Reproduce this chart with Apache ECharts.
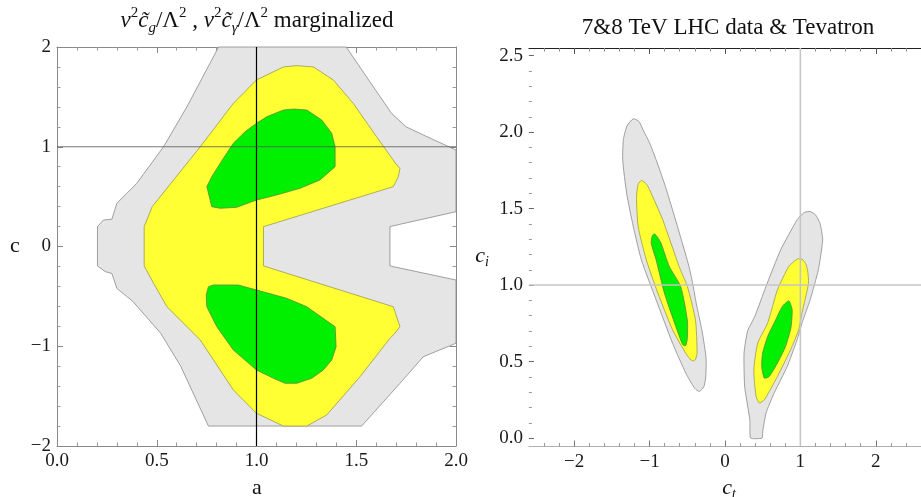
<!DOCTYPE html>
<html><head><meta charset="utf-8">
<script src="https://cdn.jsdelivr.net/npm/echarts@6/dist/echarts.min.js"></script>
<style>html,body{margin:0;padding:0;background:#fff}#c{width:921px;height:497px}</style>
</head><body><div id="c"></div>
<script>
// ---------- Left panel: (a, c) contour regions ----------
const leftGray = [
  [0.81,2.0],[1.45,2.0],[1.545,1.72],[1.677,1.335],[1.75,1.20],[1.836,1.118],[2.0,0.967],
  [2.0,0.349],[1.669,0.2],[1.669,-0.195],[2.0,-0.336],[2.0,-0.97],[1.836,-1.105],
  [1.719,-1.372],[1.527,-1.8],[0.759,-1.8],[0.62,-1.2],[0.52,-0.87],[0.38,-0.55],
  [0.30,-0.42],[0.275,-0.27],[0.242,-0.252],[0.203,-0.195],[0.203,0.199],[0.233,0.266],
  [0.275,0.273],[0.30,0.433],[0.35,0.533],[0.40,0.634],[0.534,1.0],[0.651,1.40]
];
const leftYellow = [
  [0.437,0.199],[0.477,0.399],[0.718,1.0],[0.884,1.435],[1.0,1.67],[1.135,1.80],[1.202,1.813],
  [1.285,1.80],[1.385,1.67],[1.485,1.435],[1.602,1.10],[1.703,0.817],[1.719,0.784],[1.711,0.70],
  [1.686,0.60],[1.035,0.199],[1.035,-0.195],[1.686,-0.604],[1.719,-0.804],[1.694,-0.87],
  [1.669,-0.92],[1.519,-1.305],[1.352,-1.689],[1.252,-1.80],[1.135,-1.80],[1.0,-1.672],
  [0.884,-1.439],[0.718,-0.937],[0.551,-0.604],[0.484,-0.369],[0.437,-0.195]
];
const leftGreenTop = [
  [0.751,0.60],[0.776,0.399],[0.818,0.383],[0.901,0.393],[1.0,0.466],[1.10,0.516],[1.218,0.583],
  [1.318,0.667],[1.394,0.80],[1.394,1.0],[1.377,1.135],[1.327,1.268],[1.252,1.368],[1.185,1.378],
  [1.135,1.368],[1.052,1.301],[1.0,1.235],[0.943,1.151],[0.884,1.035],[0.818,0.834],[0.776,0.70]
];
const leftGreenBottom = [
  [0.759,-0.403],[0.784,-0.386],[0.909,-0.386],[1.0,-0.436],[1.151,-0.519],[1.252,-0.604],
  [1.394,-0.804],[1.399,-1.005],[1.377,-1.138],[1.335,-1.238],[1.277,-1.321],[1.202,-1.371],
  [1.143,-1.371],[1.085,-1.321],[1.0,-1.238],[0.884,-1.038],[0.801,-0.804],[0.751,-0.604],[0.748,-0.486]
];
// ---------- Right panel: (c_t, c_i) regions ----------
const rightGrayL = [
  [-1.216,2.087],[-1.14,2.07],[-1.086,2.015],[-1.0,1.93],[-0.913,1.819],[-0.80,1.66],[-0.695,1.492],
  [-0.58,1.30],[-0.477,1.122],[-0.42,0.99],[-0.38,0.88],[-0.30,0.69],[-0.25,0.52],[-0.255,0.40],
  [-0.28,0.335],[-0.34,0.305],[-0.40,0.325],[-0.52,0.425],[-0.695,0.621],[-0.913,0.904],
  [-1.108,1.165],[-1.216,1.383],[-1.304,1.601],[-1.356,1.819],[-1.347,1.95],[-1.30,2.04]
];
const rightYellowL = [
  [-1.108,1.684],[-1.04,1.66],[-0.999,1.623],[-0.825,1.427],[-0.608,1.122],[-0.499,0.991],
  [-0.391,0.773],[-0.369,0.556],[-0.39,0.515],[-0.412,0.505],[-0.45,0.51],[-0.522,0.556],
  [-0.695,0.708],[-0.890,0.948],[-1.043,1.165],[-1.151,1.383],[-1.173,1.579],[-1.15,1.66]
];
const rightGreenL = [
  [-0.934,1.335],[-0.89,1.31],[-0.847,1.274],[-0.738,1.122],[-0.587,0.991],[-0.499,0.773],
  [-0.499,0.65],[-0.52,0.605],[-0.56,0.61],[-0.652,0.730],[-0.803,0.948],[-0.913,1.165],
  [-0.978,1.274],[-0.965,1.32]
];
const rightGrayR = [
  [1.130,1.481],[1.20,1.46],[1.261,1.405],[1.296,1.296],[1.239,1.100],[1.130,0.904],[1.022,0.752],
  [0.957,0.643],[0.826,0.468],[0.652,0.294],[0.544,0.163],[0.50,0.04],[0.492,0.0],[0.34,0.0],
  [0.33,0.12],[0.261,0.337],[0.253,0.556],[0.30,0.70],[0.40,0.80],[0.544,0.991],[0.739,1.231],
  [0.957,1.427],[1.05,1.475]
];
const rightYellowR = [
  [1.022,1.170],[1.07,1.14],[1.095,1.100],[1.108,1.013],[1.022,0.817],[0.978,0.708],[0.870,0.577],
  [0.696,0.403],[0.522,0.250],[0.456,0.229],[0.413,0.272],[0.383,0.446],[0.435,0.621],[0.566,0.752],
  [0.696,0.969],[0.847,1.122],[0.96,1.17]
];
const rightGreenR = [
  [0.847,0.897],[0.891,0.839],[0.883,0.752],[0.870,0.708],[0.804,0.599],[0.696,0.490],[0.587,0.403],
  [0.522,0.392],[0.487,0.468],[0.50,0.556],[0.566,0.664],[0.652,0.752],[0.761,0.860]
];
// reference lines
const leftVLine = [[1,-2],[1,2]];
const leftHLine = [[0,1],[2,1]];
const rightVLine = [[1,-0.055],[1,2.55]];
const rightHLine = [[-2.6,1],[2.6,1]];
// tick values
const rightXMajor = [-2,-1,0,1,2];
const rightXMinor = [-2.4,-2.2,-1.8,-1.6,-1.4,-1.2,-0.8,-0.6,-0.4,-0.2,0.2,0.4,0.6,0.8,1.2,1.4,1.6,1.8,2.2,2.4];
const rightYMajor = [0,0.5,1,1.5,2,2.5];
const rightYMinor = [0.1,0.2,0.3,0.4,0.6,0.7,0.8,0.9,1.1,1.2,1.3,1.4,1.6,1.7,1.8,1.9,2.1,2.2,2.3,2.4];

const FONT = 'Liberation Serif';
const GRAY = '#e5e5e5', YELLOW = '#ffff33', GREEN = '#00f000';
const minus = v => (v < 0 ? '\u2212' : '') + Math.abs(v);
const lbl = (fmt, extra) => Object.assign({fontFamily: FONT, fontSize: 19, color: '#1a1a1a', margin: 6, formatter: fmt}, extra || {});
const noSplit = {splitLine: {show: false}, minorSplitLine: {show: false}};

function poly(points, xi, yi, fill, stroke, smooth) {
  return {type: 'custom', xAxisIndex: xi, yAxisIndex: yi, data: points, silent: true, z: 2,
    renderItem(params, api) {
      if (params.dataIndex !== 0) return null;
      return {type: 'polygon', shape: {points: points.map(p => api.coord(p)), smooth: smooth || 0},
        style: {fill: fill, stroke: stroke, lineWidth: 0.8}};
    }};
}
function ref(data, xi, yi, color, w) {
  return {type: 'line', xAxisIndex: xi, yAxisIndex: yi, data: data, showSymbol: false, silent: true, z: 5,
    lineStyle: {color: color, width: w}};
}
function rx(pos, lineCfg, ticks, len, tickColor, labels) {
  return Object.assign({gridIndex: 1, type: 'value', min: -2.6, max: 2.6, position: pos,
    axisLine: Object.assign({onZero: false}, lineCfg),
    axisTick: {show: true, inside: true, length: len, customValues: ticks, lineStyle: {color: tickColor}},
    axisLabel: labels ? lbl(minus, {customValues: ticks}) : {show: false}}, noSplit);
}

const chart = echarts.init(document.getElementById('c'), null, {renderer: 'canvas'});
chart.setOption({
  animation: false,
  backgroundColor: '#fff',
  grid: [
    {left: 57, top: 47, width: 399, height: 399},
    {left: 528.9, top: 48, width: 398.8, height: 398.5}
  ],
  xAxis: [
    Object.assign({gridIndex: 0, type: 'value', min: 0, max: 2, interval: 0.5, position: 'bottom',
      axisLine: {onZero: false, lineStyle: {color: '#888', width: 1}},
      axisTick: {inside: true, length: 6, lineStyle: {color: '#888'}},
      minorTick: {show: true, splitNumber: 5, length: 3.5, lineStyle: {color: '#999'}},
      axisLabel: lbl(v => v.toFixed(1))}, noSplit),
    Object.assign({gridIndex: 0, type: 'value', min: 0, max: 2, interval: 0.5, position: 'top',
      axisLine: {onZero: false, lineStyle: {color: '#888', width: 1}},
      axisTick: {inside: true, length: 6, lineStyle: {color: '#888'}},
      minorTick: {show: true, splitNumber: 5, length: 3.5, lineStyle: {color: '#999'}},
      axisLabel: {show: false}}, noSplit),
    rx('bottom', {show: true, lineStyle: {color: '#b0b0b0', width: 1}}, rightXMajor, 6, '#777', true),
    rx('bottom', {show: false}, rightXMinor, 3.5, '#999', false),
    rx('top', {show: true, lineStyle: {color: '#222', width: 1}}, rightXMajor, 6, '#555', false),
    rx('top', {show: false}, rightXMinor, 3.5, '#888', false)
  ],
  yAxis: [
    Object.assign({gridIndex: 0, type: 'value', min: -2, max: 2, interval: 1, position: 'left',
      axisLine: {show: true, onZero: false, lineStyle: {color: '#888', width: 1}},
      axisTick: {show: true, inside: true, length: 6, lineStyle: {color: '#888'}},
      minorTick: {show: true, splitNumber: 5, length: 3.5, lineStyle: {color: '#999'}},
      axisLabel: lbl(minus)}, noSplit),
    Object.assign({gridIndex: 0, type: 'value', min: -2, max: 2, interval: 1, position: 'right',
      axisLine: {show: true, onZero: false, lineStyle: {color: '#888', width: 1}},
      axisTick: {show: true, inside: true, length: 6, lineStyle: {color: '#888'}},
      minorTick: {show: true, splitNumber: 5, length: 3.5, lineStyle: {color: '#999'}},
      axisLabel: {show: false}}, noSplit),
    Object.assign({gridIndex: 1, type: 'value', min: -0.055, max: 2.55, position: 'left',
      axisLine: {show: false, onZero: false},
      axisTick: {show: true, inside: true, length: 5, customValues: rightYMajor, lineStyle: {color: '#666'}},
      axisLabel: lbl(v => v.toFixed(1), {customValues: rightYMajor})}, noSplit),
    Object.assign({gridIndex: 1, type: 'value', min: -0.055, max: 2.55, position: 'left',
      axisLine: {show: false, onZero: false},
      axisTick: {show: true, inside: true, length: 3, customValues: rightYMinor, lineStyle: {color: '#999'}},
      axisLabel: {show: false}}, noSplit)
  ],
  graphic: [
    {type: 'text', x: 257, y: 21, silent: true, style: {
      text: '{it|v}{sup|2}{it|c\u0303}{sub|g}{n|/\u039B}{sup|2}{n| , }{it|v}{sup|2}{it|c\u0303}{sub|\u03B3}{n|/\u039B}{sup|2}{n| marginalized}',
      align: 'center', verticalAlign: 'middle', fill: '#111', fontFamily: FONT, fontSize: 23,
      rich: {
        n: {fontFamily: FONT, fontSize: 23, lineHeight: 30, verticalAlign: 'middle', fill: '#111'},
        it: {fontFamily: FONT, fontSize: 23, fontStyle: 'italic', lineHeight: 30, verticalAlign: 'middle', fill: '#111'},
        sup: {fontFamily: FONT, fontSize: 15, lineHeight: 16, verticalAlign: 'top', fill: '#111'},
        sub: {fontFamily: FONT, fontSize: 15, fontStyle: 'italic', lineHeight: 14, verticalAlign: 'bottom', fill: '#111'}
      }}},
    {type: 'text', x: 728, y: 28, silent: true, style: {
      text: '7&8 TeV LHC data & Tevatron', align: 'center', verticalAlign: 'middle',
      fill: '#111', fontFamily: FONT, fontSize: 23}},
    {type: 'text', x: 15, y: 246, silent: true, style: {text: 'c', align: 'center', verticalAlign: 'middle', fill: '#111', fontFamily: FONT, fontSize: 22}},
    {type: 'text', x: 257, y: 488, silent: true, style: {text: 'a', align: 'center', verticalAlign: 'middle', fill: '#111', fontFamily: FONT, fontSize: 22}},
    {type: 'text', x: 482, y: 256, silent: true, style: {
      text: '{it|c}{sub|i}', align: 'center', verticalAlign: 'middle', fontFamily: FONT, fontSize: 22,
      rich: {it: {fontFamily: FONT, fontSize: 22, fontStyle: 'italic', lineHeight: 26, verticalAlign: 'middle', fill: '#111'},
             sub: {fontFamily: FONT, fontSize: 14, fontStyle: 'italic', lineHeight: 12, verticalAlign: 'bottom', fill: '#111'}}}},
    {type: 'text', x: 729, y: 488, silent: true, style: {
      text: '{it|c}{sub|t}', align: 'center', verticalAlign: 'middle', fontFamily: FONT, fontSize: 22,
      rich: {it: {fontFamily: FONT, fontSize: 22, fontStyle: 'italic', lineHeight: 26, verticalAlign: 'middle', fill: '#111'},
             sub: {fontFamily: FONT, fontSize: 14, fontStyle: 'italic', lineHeight: 12, verticalAlign: 'bottom', fill: '#111'}}}}
  ],
  series: [
    poly(leftGray, 0, 0, GRAY, '#8a8a8a'),
    poly(leftYellow, 0, 0, YELLOW, '#9a9a50'),
    poly(leftGreenTop, 0, 0, GREEN, '#5a8a3a'),
    poly(leftGreenBottom, 0, 0, GREEN, '#5a8a3a'),
    ref(leftVLine, 0, 0, '#000', 1.2),
    ref(leftHLine, 0, 0, '#555', 0.8),
    poly(rightGrayL, 2, 2, GRAY, '#8a8a8a', 0.2),
    poly(rightGrayR, 2, 2, GRAY, '#8a8a8a', 0.15),
    poly(rightYellowL, 2, 2, YELLOW, '#9a9a50', 0.2),
    poly(rightYellowR, 2, 2, YELLOW, '#9a9a50', 0.2),
    poly(rightGreenL, 2, 2, GREEN, '#5a8a3a', 0.2),
    poly(rightGreenR, 2, 2, GREEN, '#5a8a3a', 0.2),
    ref(rightVLine, 2, 2, '#c4c4c4', 1.5),
    ref(rightHLine, 2, 2, '#c4c4c4', 1.5)
  ]
});
</script></body></html>
